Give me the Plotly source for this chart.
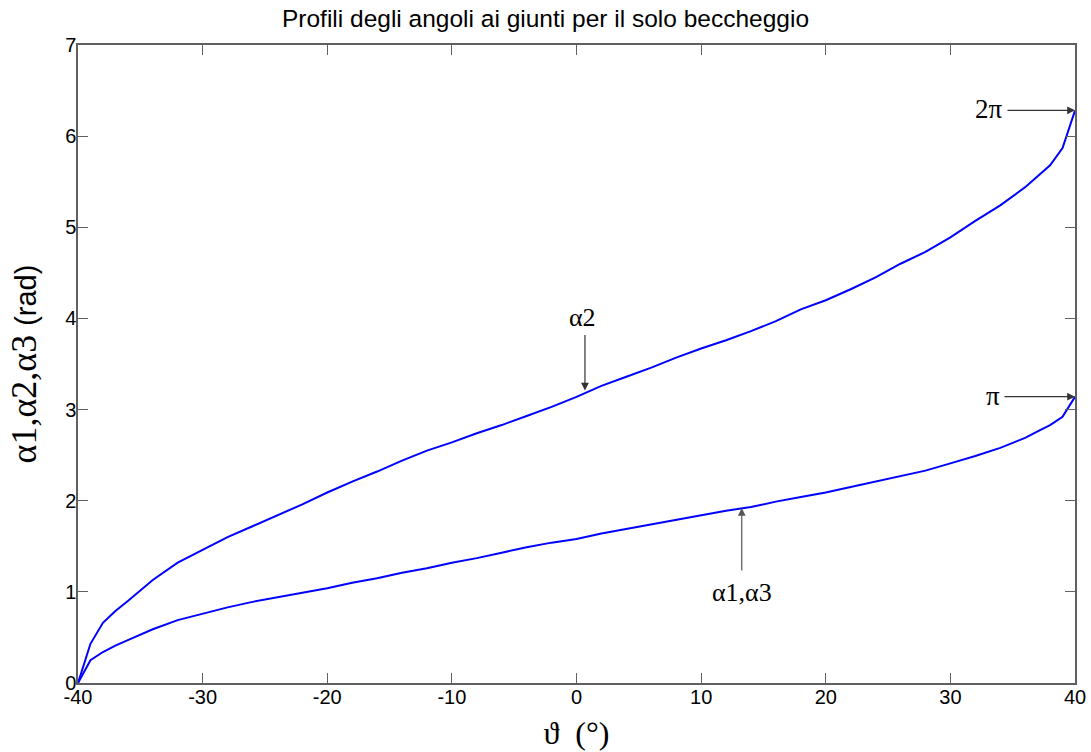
import plotly.graph_objects as go

# Pitch angle (degrees)
theta = [-40, -39, -38, -37, -36, -34, -32, -30, -28, -26, -24, -22, -20, -18,
         -16, -14, -12, -10, -8, -6, -4, -2, 0, 2, 4, 6, 8, 10, 12, 14, 16, 18,
         20, 22, 24, 26, 28, 30, 32, 34, 36, 37, 38, 39, 40]

# Joint angle alpha2 (rad)
alpha2 = [0.00, 0.43, 0.66, 0.79, 0.90, 1.13, 1.32, 1.46, 1.60, 1.72, 1.84,
          1.96, 2.09, 2.21, 2.32, 2.44, 2.55, 2.64, 2.74, 2.83, 2.93, 3.03,
          3.14, 3.26, 3.36, 3.46, 3.57, 3.67, 3.76, 3.86, 3.97, 4.10, 4.20,
          4.32, 4.45, 4.60, 4.73, 4.89, 5.07, 5.24, 5.44, 5.56, 5.68, 5.87,
          6.28]

# Joint angles alpha1 = alpha3 (rad)
alpha13 = [0.00, 0.25, 0.34, 0.41, 0.47, 0.59, 0.69, 0.76, 0.83, 0.89, 0.94,
           0.99, 1.04, 1.10, 1.15, 1.21, 1.26, 1.32, 1.37, 1.43, 1.49, 1.54,
           1.58, 1.64, 1.69, 1.74, 1.79, 1.84, 1.89, 1.93, 1.99, 2.04, 2.09,
           2.15, 2.21, 2.27, 2.33, 2.41, 2.49, 2.58, 2.69, 2.76, 2.83, 2.92,
           3.14]

x_ticks = [-40, -30, -20, -10, 0, 10, 20, 30, 40]
y_ticks = [0, 1, 2, 3, 4, 5, 6, 7]

SERIF = "Liberation Serif, Times New Roman, serif"
SANS = "Liberation Sans, Arial, sans-serif"

fig = go.Figure()
for ys in (alpha2, alpha13):
    fig.add_trace(go.Scatter(x=theta, y=ys, mode="lines",
                             line=dict(color="#0000FF", width=2),
                             showlegend=False))

arrow_col = "#333333"
# Arrow labels pointing at the end values
notes = [
    dict(x=40, y=6.2832, ax=-69, ay=0, text="2π", tx=-86, ty=1),
    dict(x=40, y=3.1416, ax=-72, ay=0, text="π", tx=-82, ty=1),
]
for n in notes:
    fig.add_annotation(x=n["x"], y=n["y"], ax=n["ax"], ay=n["ay"], text="",
                       showarrow=True, arrowhead=2, arrowsize=1.3,
                       arrowwidth=1.2, arrowcolor=arrow_col)
    fig.add_annotation(x=n["x"], y=n["y"], text=n["text"], showarrow=False,
                       xshift=n["tx"], yshift=n["ty"],
                       font=dict(family=SERIF, size=27, color="#000"))

fig.add_annotation(x=0.68, y=3.21, ax=0, ay=-57, text="", showarrow=True,
                   arrowhead=2, arrowsize=1.3, arrowwidth=1.2,
                   arrowcolor=arrow_col)
fig.add_annotation(x=0.68, y=3.21, text="α2", showarrow=False, yshift=73,
                   xshift=-2, font=dict(family=SERIF, size=26, color="#000"))

fig.add_annotation(x=13.26, y=1.92, ax=0, ay=64, text="", showarrow=True,
                   arrowhead=2, arrowsize=1.3, arrowwidth=1.2,
                   arrowcolor="#555555")
fig.add_annotation(x=13.26, y=1.92, text="α1,α3", showarrow=False,
                   yshift=-84, font=dict(family=SERIF, size=26, color="#000"))

axis_common = dict(showgrid=False, zeroline=False, ticks="inside",
                   ticklen=10, tickcolor="#606060", linecolor="#606060",
                   linewidth=1.5, showline=True, mirror="ticks",
                   automargin=False,
                   tickfont=dict(family=SANS, size=20, color="#000"))

fig.update_xaxes(range=[-40, 40], tickvals=x_ticks,
                 ticktext=[str(v) for v in x_ticks],
                 ticklabelstandoff=-5,
                 title=dict(text="ϑ  (°)", standoff=15,
                            font=dict(family=SERIF, size=32, color="#000")),
                 **axis_common)
fig.update_yaxes(range=[0, 7], tickvals=y_ticks,
                 ticktext=[str(v) for v in y_ticks],
                 ticklabelstandoff=-4,
                 title=dict(text="α1,α2,α3 <span style='font-family:Liberation Sans, Arial;font-size:29px'>(rad)</span>",
                            standoff=18,
                            font=dict(family=SERIF, size=36, color="#000")),
                 **axis_common)

fig.update_layout(
    width=1091, height=752,
    margin=dict(l=78, r=16, t=45, b=69),
    paper_bgcolor="white", plot_bgcolor="white",
    title=dict(text="Profili degli angoli ai giunti per il solo beccheggio",
               x=0.5, xanchor="center", xref="container", y=0.976,
               yanchor="middle",
               font=dict(family=SANS, size=24.5, color="#000")),
)

fig.write_html("out.html")
